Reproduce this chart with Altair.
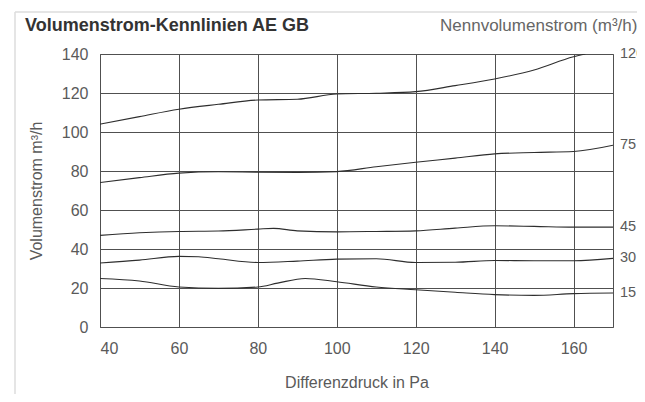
import altair as alt
import pandas as pd

# Differenzdruck (Pa) and Volumenstrom (m³/h) per nominal flow curve
x_120 = [40, 50, 60, 70, 80, 90, 100, 110, 120, 130, 140, 150, 160, 163]
y_120 = [104.0, 107.9, 111.7, 114.2, 116.4, 116.8, 119.5, 119.9, 120.7, 123.8, 127.2, 131.8, 138.6, 140.0]

x_75 = [40, 50, 60, 70, 80, 90, 100, 110, 120, 130, 140, 150, 160, 170]
y_75 = [74.1, 76.6, 78.9, 79.6, 79.4, 79.3, 79.7, 82.2, 84.5, 86.6, 88.8, 89.5, 90.0, 93.2]

x_45 = [40, 50, 60, 70, 80, 84, 90, 100, 110, 120, 130, 140, 150, 160, 170]
y_45 = [47.0, 48.3, 49.0, 49.2, 50.2, 50.6, 49.3, 48.8, 49.0, 49.3, 50.7, 51.9, 51.6, 51.2, 51.2]

x_30 = [40, 50, 60, 65, 70, 80, 90, 100, 110, 120, 130, 140, 150, 160, 170]
y_30 = [32.8, 34.3, 36.2, 36.0, 35.0, 33.1, 33.8, 34.8, 35.0, 33.1, 33.2, 34.1, 34.0, 34.0, 35.2]

x_15 = [40, 50, 60, 70, 80, 85, 92, 100, 110, 120, 130, 140, 150, 160, 170]
y_15 = [24.9, 23.6, 20.5, 19.8, 20.5, 22.5, 24.9, 23.2, 20.5, 19.1, 17.8, 16.6, 16.2, 17.1, 17.4]

series_names = ["120", "75", "45", "30", "15"]
label_x = [170, 170, 170, 170, 170]
label_y = [140.0, 93.2, 51.2, 35.2, 17.4]

x_ticks = [40, 60, 80, 100, 120, 140, 160]
y_ticks = [0, 20, 40, 60, 80, 100, 120, 140]

rows = []
for name, xs, ys in zip(series_names, [x_120, x_75, x_45, x_30, x_15],
                        [y_120, y_75, y_45, y_30, y_15]):
    for xv, yv in zip(xs, ys):
        rows.append({"series": name, "dp": xv, "flow": yv})
df = pd.DataFrame(rows)
labels_df = pd.DataFrame({"series": series_names, "dp": label_x, "flow": label_y})

FONT = "Liberation Sans"
GRID = "#505050"
TXT = "#5a5a5a"

x_scale = alt.Scale(domain=[40, 170], nice=False, zero=False)
y_scale = alt.Scale(domain=[0, 140], nice=False)

x_axis = alt.Axis(values=x_ticks, title="Differenzdruck in Pa",
                  labelPadding=13, titlePadding=18, labelOverlap=False)
y_axis = alt.Axis(values=y_ticks, title="Volumenstrom m³/h",
                  labelPadding=12, titlePadding=17, labelOverlap=False)

lines = alt.Chart(df).mark_line(
    interpolate="monotone", color="#2e2e2e", strokeWidth=1.1, clip=True
).encode(
    x=alt.X("dp:Q", scale=x_scale, axis=x_axis),
    y=alt.Y("flow:Q", scale=y_scale, axis=y_axis),
    detail="series:N",
)

end_labels = alt.Chart(labels_df).mark_text(
    align="left", baseline="middle", dx=7, fontSize=14.5, font=FONT, color=TXT
).encode(
    x=alt.X("dp:Q", scale=x_scale, axis=x_axis),
    y=alt.Y("flow:Q", scale=y_scale, axis=y_axis),
    text="series:N",
)

one = pd.DataFrame({"k": [0]})
title_left = alt.Chart(one).mark_text(
    text="Volumenstrom-Kennlinien AE GB", align="left", baseline="alphabetic",
    fontSize=18, fontWeight="bold", font=FONT, color="#333333"
).encode(x=alt.value(-75), y=alt.value(-23))

title_right = alt.Chart(one).mark_text(
    text="Nennvolumenstrom (m³/h)", align="left", baseline="alphabetic",
    fontSize=17, font=FONT, color="#666666"
).encode(x=alt.value(340), y=alt.value(-23))

frame_top = alt.Chart(one).mark_rule(color="#dcdcdc", strokeWidth=1.5, clip=False).encode(
    x=alt.value(-85), x2=alt.value(560), y=alt.value(-42))
frame_left = alt.Chart(one).mark_rule(color="#dcdcdc", strokeWidth=1.5, clip=False).encode(
    x=alt.value(-85), y=alt.value(-42), y2=alt.value(360))

chart = alt.layer(frame_top, frame_left, lines, end_labels, title_left, title_right).properties(
    width=513, height=273,
    background="white",
    autosize=alt.AutoSizeParams(type="none"),
    padding={"left": 92, "top": 46, "right": 24, "bottom": 67},
).configure_view(
    stroke=GRID, strokeWidth=1
).configure_axis(
    grid=True, gridColor=GRID, gridOpacity=1, gridWidth=1,
    domain=False, ticks=False,
    labelFont=FONT, labelFontSize=16, labelColor=TXT,
    titleFont=FONT, titleFontSize=16, titleColor=TXT, titleFontWeight="normal",
)

chart.save("out.html", embed_options={"renderer": "svg", "actions": False})
